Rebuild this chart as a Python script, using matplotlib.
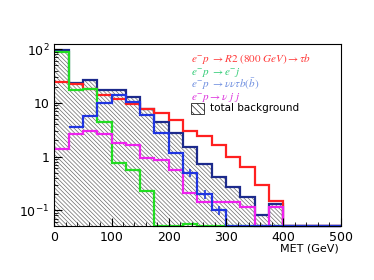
import numpy as np
import matplotlib
matplotlib.use('Agg')
import matplotlib.pyplot as plt
from matplotlib.patches import Rectangle
from matplotlib.ticker import MultipleLocator, FixedLocator, FixedFormatter, LogLocator

plt.rcParams['hatch.linewidth'] = 0.5
plt.rcParams['mathtext.fontset'] = 'stix'

# MET bins, 25 GeV wide
edges = np.arange(0, 525, 25)

# total background (hatched)
bkg = [95, 23, 27, 17.5, 17, 13, 7.7, 4.4, 2.8, 1.5, 0.72, 0.41, 0.27, 0.18, 0.083, 0.13,
       0, 0, 0, 0]
# signal e-p -> R2 (800 GeV) -> tau b
sig = [24, 22, 18, 14.3, 12, 9.7, 7.6, 6.4, 4.8, 3.05, 2.45, 1.67, 1.0, 0.65, 0.30, 0.15,
       0, 0, 0, 0]
# e-p -> e-j
ej = [90, 17.5, 18.5, 4.4, 0.77, 0.56, 0.23, 0, 0, 0.055, 0, 0, 0, 0, 0, 0, 0, 0, 0, 0]
# e-p -> nu nu tau b (bbar), first bin empty
nntb = [0, 3.5, 5.7, 10, 14, 10.5, 5.9, 2.75, 1.18, 0.5, 0.2, 0.1, 0, 0, 0, 0, 0, 0, 0, 0]
nntb_err_x = [237.5, 262.5, 287.5]
nntb_err_y = [0.5, 0.2, 0.1]
nntb_err = [0.08, 0.035, 0.018]
# e-p -> nu j j
njj = [1.38, 2.6, 3.0, 2.6, 1.8, 1.65, 0.95, 0.88, 0.57, 0.21, 0.145, 0.145, 0.145, 0.117,
       0, 0.115, 0, 0, 0, 0]

ymin, ymax = 0.051, 125

def floor(v):
    v = np.asarray(v, dtype=float)
    return np.where(v <= 0, ymin, v)

fig = plt.figure(figsize=(3.74, 2.80), dpi=100)
ax = fig.add_axes([0.145, 0.193, 0.766, 0.650])
ax.set_yscale('log')

hatch = '\\' * 8
ax.stairs(floor(bkg), edges, baseline=ymin, fill=True, facecolor='none',
          edgecolor='#6a6a6a', hatch=hatch, linewidth=0)
ax.stairs(floor(bkg), edges, baseline=None, color='#1c2a8c', lw=1.6, clip_on=False)
ax.stairs(floor(sig), edges, baseline=None, color='#ff2020', lw=1.6)
ax.stairs(floor(ej), edges, baseline=None, color='#22dd22', lw=1.6, clip_on=False)
ax.stairs(floor(njj), edges, baseline=None, color='#ee22ee', lw=1.6, clip_on=False)
ax.stairs(floor(nntb)[1:], edges[1:], baseline=None, color='#1f35e0', lw=1.6, clip_on=False)
ax.errorbar(nntb_err_x, nntb_err_y, yerr=nntb_err, fmt='none', ecolor='#1f35e0', lw=1.2)

ax.set_xlim(0, 500)
ax.set_ylim(ymin, ymax)

ax.xaxis.set_major_locator(MultipleLocator(100))
ax.xaxis.set_minor_locator(MultipleLocator(20))
ax.yaxis.set_major_locator(FixedLocator([0.1, 1, 10, 100]))
ax.yaxis.set_major_formatter(FixedFormatter([r'$\mathregular{10^{-1}}$', '1', '10',
                                             r'$\mathregular{10^{2}}$']))
ax.yaxis.set_minor_locator(LogLocator(base=10, subs=np.arange(2, 10)))
ax.yaxis.set_minor_formatter(FixedFormatter([]))
ax.tick_params(which='both', direction='in', top=False, right=False, labelsize=9)
ax.tick_params(which='major', length=6, width=0.8)
ax.tick_params(which='minor', length=3, width=0.6)
for s in ax.spines.values():
    s.set_linewidth(0.8)

fig.text(0.826, 0.111, 'MET (GeV)', ha='center', va='center', fontsize=8)

# legend
labels = [r'$e^{-}p\ \rightarrow R2\ (800\ GeV) \rightarrow \tau b$',
          r'$e^{-}p\ \rightarrow e^{-}j$',
          r'$e^{-}p\ \rightarrow \nu\nu\tau b(\bar{b})$',
          r'$e^{-}p \rightarrow \nu\ j\ j$']
colors = ['#ff3a3a', '#33cc77', '#6f8fe0', '#dd33dd']
ys = [0.900, 0.830, 0.760, 0.690]
for lab, c, y in zip(labels, colors, ys):
    ax.text(0.477, y, lab, color=c, fontsize=8, transform=ax.transAxes, va='baseline')
ax.add_patch(Rectangle((0.477, 0.615), 0.046, 0.061, transform=ax.transAxes,
                       facecolor='none', edgecolor='#222222', hatch='\\' * 5, lw=0.6))
ax.text(0.545, 0.647, 'total background', fontsize=7.5, transform=ax.transAxes, va='center')

fig.savefig('out.png', dpi=100)
